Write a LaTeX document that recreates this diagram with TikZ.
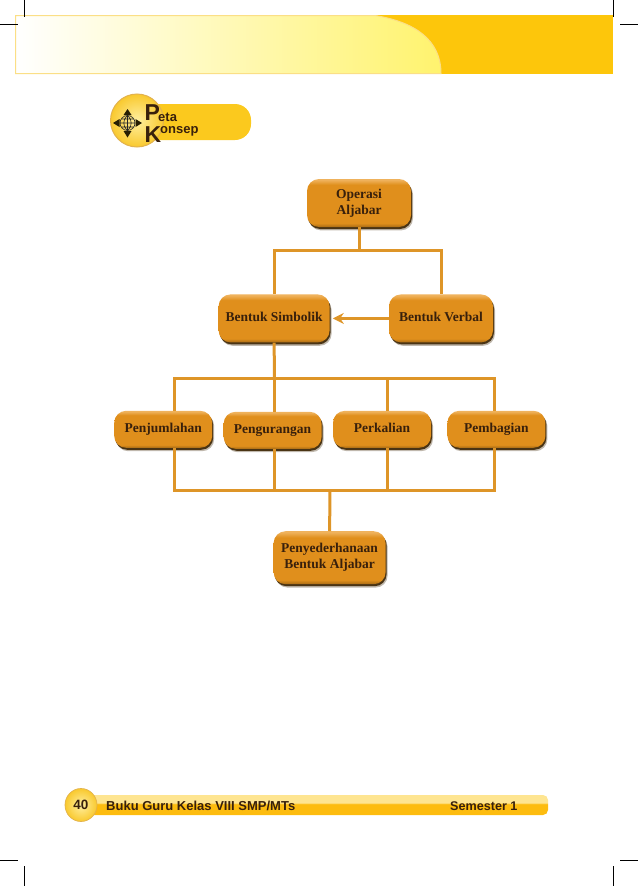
\documentclass[tikz,border=0pt]{standalone}
\usepackage{fontspec}
\setmainfont{Liberation Serif}
\newfontfamily\hurufsans{Liberation Sans}
\usetikzlibrary{positioning,shadows,arrows.meta,shapes.geometric}
\definecolor{oranye}{HTML}{E08F1C}
\definecolor{oranyeterang}{HTML}{EFB25C}
\definecolor{garisoranye}{HTML}{DE9528}
\definecolor{coklat}{HTML}{38200C}
\definecolor{bayangan}{HTML}{4A3414}
\definecolor{emas}{HTML}{FDC60B}
\definecolor{emaspil}{HTML}{FBC91E}
\definecolor{emasbar}{HTML}{FDBC0F}
\definecolor{kuningpucat}{HTML}{FFF36E}
\definecolor{tepi}{HTML}{FBDF86}
\definecolor{cincin}{HTML}{E2B24E}
\definecolor{pusat}{HTML}{FFEFA0}
\definecolor{luar}{HTML}{F9C92E}
\pgfdeclareverticalshading{kotakshade}{100bp}{color(0bp)=(oranye!75!black);color(25bp)=(oranye!75!black);color(29bp)=(oranye);color(69bp)=(oranye);color(74bp)=(oranyeterang);color(100bp)=(oranyeterang)}
\pgfdeclareverticalshading{barshade}{100bp}{color(0bp)=(emasbar);color(52bp)=(emasbar);color(56bp)=(emas!45!white);color(100bp)=(emas!45!white)}
\tikzset{
  kotak/.style={rounded corners=12pt, shading=kotakshade, inner sep=0pt, align=center,
    text=coklat, font=\fontsize{13.5}{16}\selectfont\bfseries,
    drop shadow={shadow xshift=2pt, shadow yshift=-3.4pt, fill=bayangan, opacity=.35},
    drop shadow={shadow xshift=1pt, shadow yshift=-2pt, fill=bayangan, opacity=1}},
  kotaksatu/.style={kotak, text height=9pt, text depth=3pt},
  kotakbaris/.style={kotaksatu, minimum width=98pt, minimum height=37pt},
  garis/.style={garisoranye, line width=3pt},
  tanda/.style={black, line width=.6pt},
  huruf/.style={inner sep=0pt, text=coklat, font=\hurufsans\bfseries},
  kompas/.style={fill=black!85!emas},
}
\begin{document}
\begin{tikzpicture}[x=1pt, y=-1pt]
    \useasboundingbox (0,0) rectangle (638,886);

    % header
    \fill[emas] (15,15) rectangle (613,74);
    \draw[tepi, left color=white, right color=kuningpucat, line width=1pt]
      (15.5,15.5) -- (375,15.5) .. controls (415,22) and (441,40) .. (441,73.5) -- (15.5,73.5) -- cycle;

    % logo
    \fill[emaspil, rounded corners=16pt] (137,104) rectangle (251,140);
    \node(LG) [circle, draw=cincin, line width=1pt, minimum size=53pt, inner sep=0pt,
      inner color=pusat, outer color=luar] at (137,120.5) {};
    \draw[black!85, line width=.6pt] (127.5,123) circle (7.5)
      (120,123) -- (135,123) (121,119) -- (134,119) (121,127) -- (134,127)
      (127.5,115.5) -- (127.5,130.5)
      (127.5,115.5) .. controls (122.5,119) and (122.5,127) .. (127.5,130.5)
      (127.5,115.5) .. controls (132.5,119) and (132.5,127) .. (127.5,130.5);
    \fill[kompas] (127.5,109) -- (131.5,115) -- (123.5,115) -- cycle;
    \fill[kompas] (127.5,137.5) -- (131.5,131) -- (123.5,131) -- cycle;
    \fill[kompas] (113,123) -- (119.5,119) -- (119.5,127) -- cycle;
    \fill[kompas] (142,123) -- (135.5,119) -- (135.5,127) -- cycle;
    \node(PP) [huruf, anchor=base west, font=\hurufsans\bfseries\fontsize{23}{23}\selectfont] at (144.5,120.5) {P};
    \node(ET) [huruf, anchor=base west, font=\hurufsans\bfseries\fontsize{13}{13}\selectfont] at (158,121) {eta};
    \node(KK) [huruf, anchor=base west, font=\hurufsans\bfseries\fontsize{23}{23}\selectfont] at (144.5,142.5) {K};
    \node(NS) [huruf, anchor=base west, font=\hurufsans\bfseries\fontsize{13}{13}\selectfont] at (160,133) {onsep};

    % boxes
    \node(OA) [kotak, minimum width=104pt, minimum height=48pt] at (359,203) {Operasi\\Aljabar};
    \node(BS) [kotaksatu, minimum width=111pt, minimum height=48pt, below left=67pt and -23pt of OA] {Bentuk Simbolik};
    \node(BV) [kotaksatu, minimum width=104pt, minimum height=48pt, right=59pt of BS] {Bentuk Verbal};
    \node(PG) [kotakbaris, below=69pt of BS, xshift=-1.5pt] {Pengurangan};
    \node(PJ) [kotakbaris, left=11pt of PG, yshift=1pt] {Penjumlahan};
    \node(PK) [kotakbaris, right=11pt of PG, yshift=1pt] {Perkalian};
    \node(PB) [kotakbaris, right=16pt of PK] {Pembagian};
    \node(PA) [kotak, minimum width=112pt, minimum height=53pt, below=82pt of PG, xshift=57pt] {Penyederhanaan\\Bentuk Aljabar};

    \coordinate(TB) at (359,250);
    \coordinate(RB) at (274.5,378);
    \coordinate(LB) at (330,490);

    \draw[garis] (OA.south) -- (TB);
    \draw[garis] (BS.north) |- (TB) -| (BV.north);
    \draw[garis, -{Stealth[length=11pt, width=11pt]}, shorten >=3pt] (BV.west) -- (BS.east);
    \draw[garis] (BS.south) -- (RB);
    \foreach \n/\s in {PJ/11pt, PG/1.5pt, PK/5pt, PB/-1.5pt}{
      \draw[garis] ([xshift=\s]\n.north) |- (RB);
      \draw[garis] ([xshift=\s]\n.south) |- (LB);
    }
    \draw[garis] (PA.north) -- (LB);

    % footer
    \node(BR) [minimum width=467pt, minimum height=20pt, inner sep=0pt, rounded corners=5pt, shading=barshade] at (314.5,805) {};
    \node(HL) [ellipse, draw=cincin, line width=.7pt, minimum width=32pt, minimum height=33pt, inner sep=0pt,
      inner color=pusat, outer color=luar, font=\hurufsans\bfseries\fontsize{13.5}{13.5}\selectfont, text=coklat] at (81,805) {40};
    \node(JD) [huruf, anchor=base west, font=\hurufsans\bfseries\fontsize{13}{13}\selectfont] at (106,810.5) {Buku Guru Kelas VIII SMP/MTs};
    \node(SM) [huruf, anchor=base west, font=\hurufsans\bfseries\fontsize{12.6}{13}\selectfont] at (450,810.5) {Semester 1};

    % crop marks
    \draw[tanda] (24,0) -- (24,17) (613,0) -- (613,17) (0,24) -- (18,24) (620,24) -- (638,24);
    \draw[tanda] (24,866) -- (24,886) (613,866) -- (613,886) (0,860) -- (18,860) (620,860) -- (638,860);
  \end{tikzpicture}
\end{document}
